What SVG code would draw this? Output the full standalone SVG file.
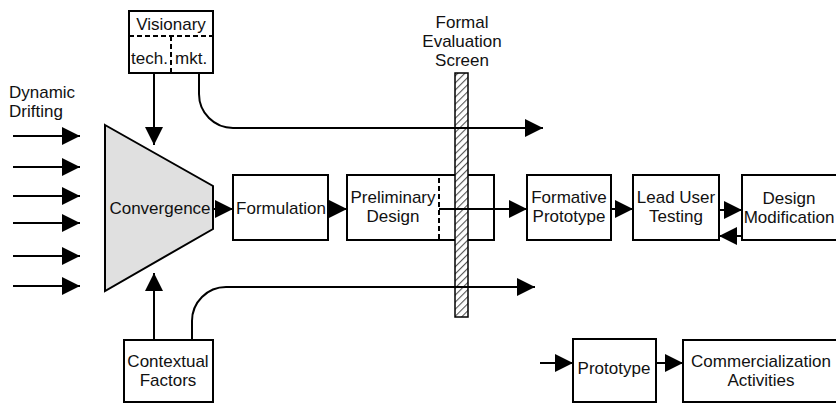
<svg xmlns="http://www.w3.org/2000/svg" width="836" height="404" viewBox="0 0 836 404">
<defs>
<marker id="ah" markerUnits="userSpaceOnUse" markerWidth="18" markerHeight="18" refX="18" refY="9" orient="auto">
<path d="M0,0 L18,9 L0,18 z" fill="#000"/>
</marker>
<pattern id="hatch" patternUnits="userSpaceOnUse" width="5" height="5" patternTransform="rotate(45)">
<rect width="5" height="5" fill="#fff"/>
<line x1="0" y1="0" x2="0" y2="5" stroke="#555" stroke-width="2.2"/>
</pattern>
<style>
text{font-family:"Liberation Sans",Arial,sans-serif;font-size:17px;fill:#111}
.c{text-anchor:middle}
.box{fill:#fff;stroke:#000;stroke-width:2}
.arr{fill:none;stroke:#000;stroke-width:2;marker-end:url(#ah)}
.dash{fill:none;stroke:#000;stroke-width:2;stroke-dasharray:5,3}
</style>
</defs>
<rect width="836" height="404" fill="#fff"/>

<g id="dynamic-drifting">
<text x="9" y="98">Dynamic</text>
<text x="9" y="117">Drifting</text>
</g>

<g id="visionary">
<rect class="box" x="129" y="11" width="84" height="62"/>
<line class="dash" x1="129" y1="36" x2="213" y2="36"/>
<line class="dash" x1="171" y1="36" x2="171" y2="73"/>
<text class="c" x="171" y="30">Visionary</text>
<text x="131" y="64">tech.</text>
<text x="175" y="64">mkt.</text>
</g>

<g id="convergence">
<polygon points="105,125 213,186 213,229 105,291" fill="#e0e0e0" stroke="#000" stroke-width="2"/>
<text class="c" x="160" y="214">Convergence</text>
</g>

<g id="formulation">
<rect class="box" x="233" y="175" width="95" height="65"/>
<text class="c" x="281" y="214">Formulation</text>
</g>

<g id="preliminary-design">
<rect class="box" x="347" y="175" width="147" height="65"/>
<line class="dash" x1="439" y1="178" x2="439" y2="240"/>
<text class="c" x="393" y="203">Preliminary</text>
<text class="c" x="393" y="222">Design</text>
</g>

<g id="formal-evaluation-screen">
<text class="c" x="462" y="28">Formal</text>
<text class="c" x="462" y="47">Evaluation</text>
<text class="c" x="462" y="66">Screen</text>
<rect x="455" y="73" width="13" height="244" fill="url(#hatch)" stroke="#000" stroke-width="1.5"/>
</g>

<g id="formative-prototype">
<rect class="box" x="527" y="175" width="84" height="65"/>
<text class="c" x="569" y="203">Formative</text>
<text class="c" x="569" y="222">Prototype</text>
</g>

<g id="lead-user-testing">
<rect class="box" x="633" y="175" width="86" height="65"/>
<text class="c" x="676" y="203">Lead User</text>
<text class="c" x="676" y="222">Testing</text>
</g>

<g id="design-modification">
<rect class="box" x="742" y="175" width="100" height="65"/>
<text class="c" x="789" y="204">Design</text>
<text class="c" x="789" y="223">Modification</text>
</g>

<g id="contextual-factors">
<rect class="box" x="124" y="340" width="89" height="62"/>
<text class="c" x="168" y="367">Contextual</text>
<text class="c" x="168" y="386">Factors</text>
</g>

<g id="prototype">
<rect class="box" x="573" y="339" width="83" height="63"/>
<text class="c" x="614" y="374">Prototype</text>
</g>

<g id="commercialization-activities">
<rect class="box" x="683" y="340" width="160" height="62"/>
<text class="c" x="761" y="367">Commercialization</text>
<text class="c" x="761" y="386">Activities</text>
</g>

<g id="connectors">
<line class="arr" x1="13" y1="136" x2="80" y2="136"/>
<line class="arr" x1="13" y1="167" x2="80" y2="167"/>
<line class="arr" x1="13" y1="196" x2="80" y2="196"/>
<line class="arr" x1="13" y1="223" x2="80" y2="223"/>
<line class="arr" x1="13" y1="256" x2="80" y2="256"/>
<line class="arr" x1="13" y1="286" x2="80" y2="286"/>
<line class="arr" x1="154" y1="73" x2="154" y2="145"/>
<line class="arr" x1="154" y1="340" x2="154" y2="273"/>
<path class="arr" d="M199,73 V94 A34,34 0 0 0 233,128 H543"/>
<path class="arr" d="M192,340 V321 A34,34 0 0 1 226,287 H535"/>
<line class="arr" x1="213" y1="209" x2="233" y2="209"/>
<line class="arr" x1="328" y1="209" x2="347" y2="209"/>
<line class="arr" x1="439" y1="209" x2="527" y2="209"/>
<line class="arr" x1="611" y1="209" x2="633" y2="209"/>
<line class="arr" x1="719" y1="210" x2="742" y2="210"/>
<line class="arr" x1="742" y1="236" x2="719" y2="236"/>
<line class="arr" x1="540" y1="363" x2="573" y2="363"/>
<line class="arr" x1="656" y1="363" x2="683" y2="363"/>
</g>
</svg>
